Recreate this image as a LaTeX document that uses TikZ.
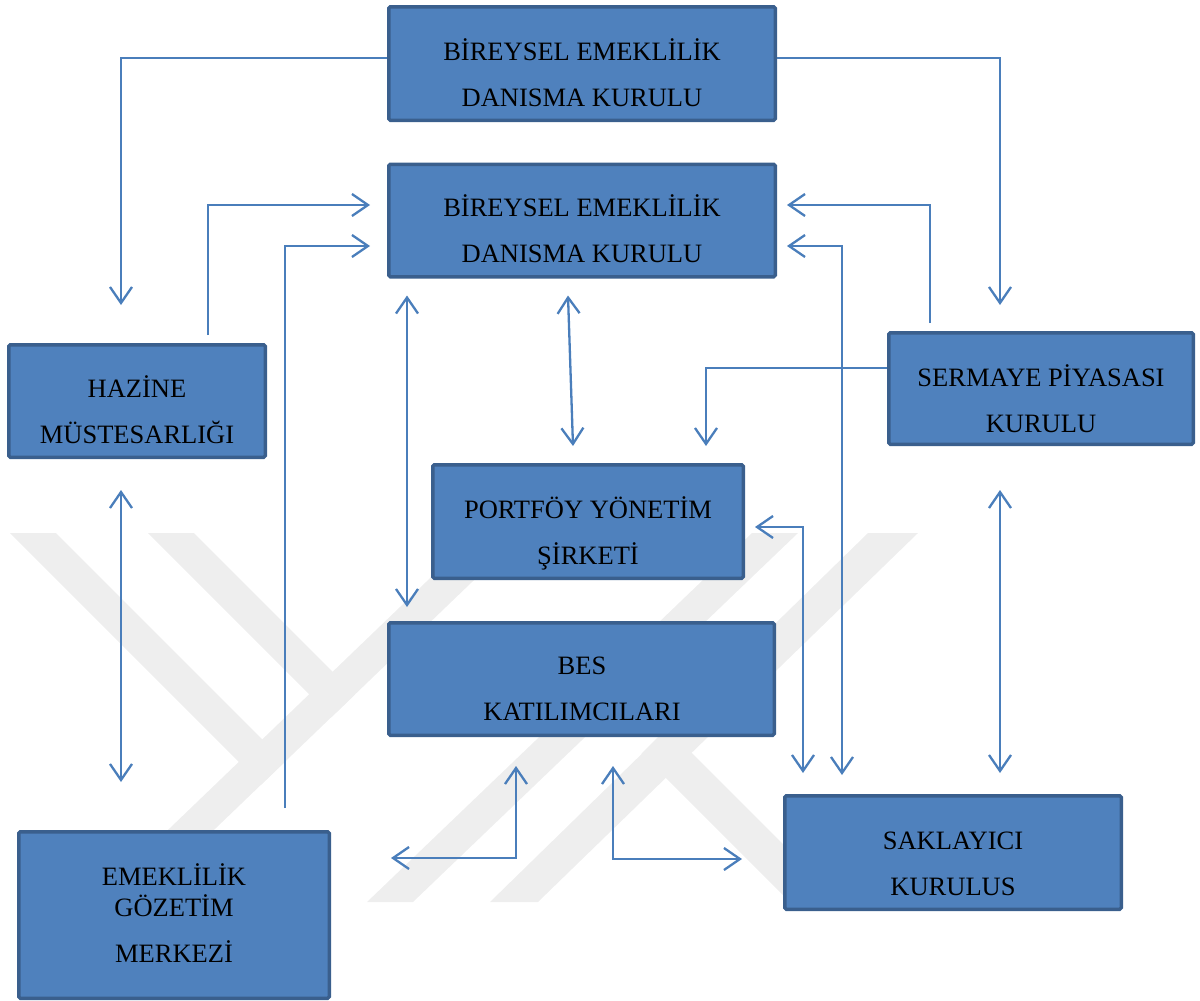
\documentclass[tikz,border=0pt]{standalone}
\usepackage{fontspec}
\setmainfont{Liberation Serif}
\usetikzlibrary{arrows.meta}
\definecolor{boxfill}{HTML}{4F81BD}
\definecolor{boxline}{HTML}{3A5F8D}
\definecolor{conncol}{HTML}{4A7EBB}
\definecolor{wmark}{HTML}{EEEEEE}
\newcommand\mytop{\rule{0pt}{24pt}}
\newcommand\mybot{\rule[-7pt]{0pt}{7pt}}
\begin{document}
\begin{tikzpicture}[x=1pt,y=-1pt,
  box/.style={draw=boxline, line width=3.5pt, fill=boxfill, rounded corners=1.5pt, inner sep=0pt},
  txt/.style={align=center, inner sep=0pt, font=\fontsize{26.5pt}{46pt}\selectfont, text=black},
  conn/.style={draw=conncol, line width=2.3pt, line join=miter},
  barb/.tip={Straight Barb[length=16pt,width=22pt]},
  wm/.style={fill=wmark, draw=none}]
\useasboundingbox (0,0) rectangle (1200,1001);
% watermark
\fill[wm] (10,533) -- (56,533) -- (284.9,761.9) -- (261.4,784.4) -- cycle;
\fill[wm] (148,533) -- (194,533) -- (355.2,694.2) -- (331.8,716.8) -- cycle;
\fill[wm] (477,533) -- (523,533) -- (139,902) -- (93,902) -- cycle;
\fill[wm] (752,533) -- (798,533) -- (413,902) -- (367,902) -- cycle;
\fill[wm] (868,533) -- (918,533) -- (538,902) -- (490,902) -- cycle;
\fill[wm] (667,728) -- (842,903) -- (791,903) -- (641.5,753.5) -- cycle;
% boxes
\node[box, minimum width=386.5pt, minimum height=113.5pt] (top) at (582,63.5) {};
\node[box, minimum width=386.5pt, minimum height=112.5pt] (bek) at (582,220.5) {};
\node[box, minimum width=256.5pt, minimum height=112.5pt] (haz) at (137,401) {};
\node[box, minimum width=304.5pt, minimum height=111.5pt] (spk) at (1041,388.5) {};
\node[box, minimum width=310.5pt, minimum height=113.5pt] (pys) at (588,521.5) {};
\node[box, minimum width=385.5pt, minimum height=112.5pt] (bes) at (581.5,679) {};
\node[box, minimum width=336.5pt, minimum height=113.5pt] (sak) at (953,852.5) {};
\node[box, minimum width=310.5pt, minimum height=166.5pt] (egm) at (174,915) {};
% texts
\node[txt] (top-t) at (582,75.2) {\mytop BİREYSEL EMEKLİLİK\\DANISMA KURULU\mybot};
\node[txt] (bek-t) at (582,231.2) {\mytop BİREYSEL EMEKLİLİK\\DANISMA KURULU\mybot};
\node[txt] (haz-t) at (137,411.7) {\mytop HAZİNE\\MÜSTESARLIĞI\mybot};
\node[txt] (spk-t) at (1041,400.7) {\mytop SERMAYE PİYASASI\\KURULU\mybot};
\node[txt] (pys-t) at (588,532.7) {\mytop PORTFÖY YÖNETİM\\ŞİRKETİ\mybot};
\node[txt] (bes-t) at (582,688.7) {\mytop BES\\KATILIMCILARI\mybot};
\node[txt] (sak-t) at (953,863.7) {\mytop SAKLAYICI\\KURULUS\mybot};
\node[txt] (egm-t) at (174,915.7) {\mytop EMEKLİLİK\\[-15pt]GÖZETİM\\MERKEZİ\mybot};
% connectors
\draw[conn,-{barb}] ([yshift=5.5pt]top.west) -| ([xshift=-16pt,yshift=38pt]haz.north);
\draw[conn,-{barb}] ([yshift=5.5pt]top.east) -| ([xshift=-41pt,yshift=26pt]spk.north);
\draw[conn,-{barb}] ([xshift=71pt,yshift=8pt]haz.north) |- ([xshift=-17pt,yshift=15.5pt]bek.west);
\draw[conn,-{barb}] ([xshift=111pt,yshift=22pt]egm.north) |- ([xshift=-17pt,yshift=-25.5pt]bek.west);
\draw[conn,{barb}-{barb}] ([xshift=-16pt,yshift=-31pt]haz.south) -- ([xshift=-53pt,yshift=48pt]egm.north);
\draw[conn,{barb}-{barb}] ([xshift=-175pt,yshift=-17pt]bek.south) -- ([xshift=-174.5pt,yshift=14pt]bes.north);
\draw[conn,{barb}-{barb}] ([xshift=-14pt,yshift=-17pt]bek.south) -- ([xshift=-15pt,yshift=17pt]pys.north);
\draw[conn,-{barb}] ([xshift=-111pt,yshift=8pt]spk.north) |- ([xshift=10pt,yshift=15.5pt]bek.east);
\draw[conn,{barb}-{barb}] ([xshift=10pt,yshift=-25.5pt]bek.east) -| ([xshift=-111pt,yshift=19pt]sak.north);
\draw[conn,-{barb}] ([yshift=20.5pt]spk.west) -| ([xshift=118pt,yshift=17pt]pys.north);
\draw[conn,{barb}-{barb}] ([xshift=10pt,yshift=-5.5pt]pys.east) -| ([xshift=-150pt,yshift=21pt]sak.north);
\draw[conn,{barb}-{barb}] ([xshift=-41pt,yshift=-44pt]spk.south) -- ([xshift=47pt,yshift=21pt]sak.north);
\draw[conn,{barb}-{barb}] ([xshift=-65.5pt,yshift=-29pt]bes.south) |- ([xshift=60pt,yshift=57pt]egm.east);
\draw[conn,{barb}-{barb}] ([xshift=31.5pt,yshift=-29pt]bes.south) |- ([xshift=-41pt,yshift=-6.5pt]sak.west);
\end{tikzpicture}
\end{document}
